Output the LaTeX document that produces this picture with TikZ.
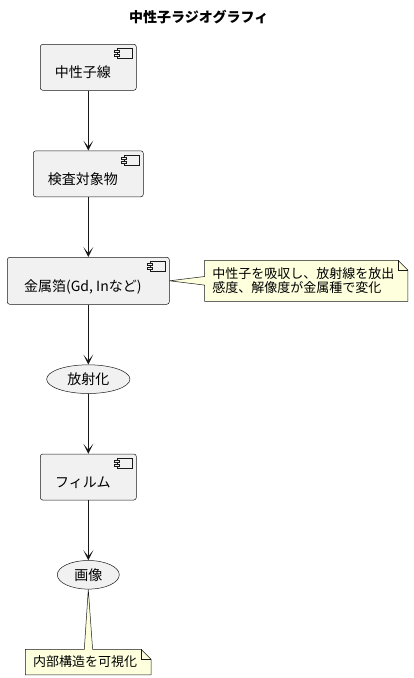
\documentclass[tikz,border=0pt]{standalone}
\usepackage{fontspec}
\setmainfont{Noto Sans CJK JP}
\usetikzlibrary{arrows.meta}
\usetikzlibrary{shapes.geometric}
\usetikzlibrary{positioning}
\usetikzlibrary{backgrounds}
\definecolor{boxfill}{HTML}{F1F1F1}
\definecolor{ink}{HTML}{181818}
\definecolor{notefill}{HTML}{FEFFDD}

\begin{document}
\begin{tikzpicture}[x=1pt,y=-1pt]
      \tikzset{
        >={Stealth[length=10pt,width=10pt,inset=6pt]},
        node distance=60pt,
        comp/.style={draw=ink, line width=0.5pt, fill=boxfill, rounded corners=2.5pt,
          minimum height=46pt, text height=21pt, text depth=0pt,
          font=\fontsize{14pt}{16pt}\selectfont, execute at end node=\kern11pt},
        usecase/.style={ellipse, draw=ink, line width=0.5pt, fill=boxfill, inner sep=0pt,
          font=\fontsize{14pt}{16pt}\selectfont},
        note/.style={inner xsep=7.5pt, inner ysep=0pt, align=left,
          font=\fontsize{13pt}{14pt}\selectfont},
        flow/.style={->, draw=ink, line width=1pt},
        notepath/.style={draw=ink, line width=0.5pt, fill=notefill},
      }
      \useasboundingbox (0,0) rectangle (413,678);

      \node[font=\bfseries\fontsize{14pt}{16pt}\selectfont] (title) at (198.8,17) {中性子ラジオグラフィ};

      \node[comp, minimum width=96pt] (n1) at (88.3,67.3) {中性子線};
      \node[comp, minimum width=110pt, below=of n1] (n2) {検査対象物};
      \node[comp, minimum width=162pt, minimum height=47pt, below=of n2] (n3) {金属箔(Gd, Inなど)};
      \node[usecase, minimum width=83.3pt, minimum height=28.7pt, below=of n3] (e1) {放射化};
      \node[comp, minimum width=96pt, below=of e1] (n4) {フィルム};
      \node[usecase, minimum width=62pt, minimum height=28.6pt, below=of n4] (e2) {画像};

      \node[note, minimum width=203pt, minimum height=40.7pt, text width=188pt, right=35pt of n3] (nt1)
        {中性子を吸収し、放射線を放出\\感度、解像度が金属種で変化};
      \node[note, minimum width=125.4pt, minimum height=25pt, text width=110.4pt, below=of e2] (nt2)
        {内部構造を可視化};

      % component icons
      \foreach \c in {n1,n2,n3,n4} {
        \draw[ink, line width=0.5pt, fill=boxfill] ([shift={(-19.6,4.5)}]\c.north east) rectangle ++(15,10);
        \draw[ink, line width=0.5pt, fill=boxfill] ([shift={(-22,6.5)}]\c.north east) rectangle ++(5,2);
        \draw[ink, line width=0.5pt, fill=boxfill] ([shift={(-22,10.5)}]\c.north east) rectangle ++(5,2);
      }

      \draw[flow] (n1) -- (n2);
      \draw[flow] (n2) -- (n3);
      \draw[flow] (n3) -- (e1);
      \draw[flow] (e1) -- (n4);
      \draw[flow] (n4) -- (e2);

      % notes
      \begin{scope}[on background layer]
        \path[notepath] (nt1.north west) -- ([xshift=-10pt]nt1.north east) -- ([yshift=-10pt]nt1.north east)
          -- (nt1.south east) -- (nt1.south west) -- ([yshift=-4.3pt]nt1.west) -- (n3.east)
          -- ([yshift=4.3pt]nt1.west) -- cycle;
        \draw[ink, line width=0.5pt] ([xshift=-10pt]nt1.north east) -- ++(0,10) -- ++(10,0);

        \path[notepath] (nt2.north west) -- ([xshift=-4pt]nt2.north) -- (e2.south) -- ([xshift=4.3pt]nt2.north)
          -- ([xshift=-10pt]nt2.north east) -- ([yshift=-10pt]nt2.north east)
          -- (nt2.south east) -- (nt2.south west) -- cycle;
        \draw[ink, line width=0.5pt] ([xshift=-10pt]nt2.north east) -- ++(0,10) -- ++(10,0);
      \end{scope}
    \end{tikzpicture}
\end{document}
